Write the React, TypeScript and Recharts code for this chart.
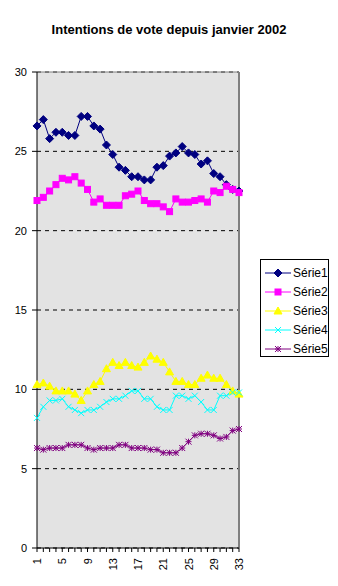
import { LineChart, Line, XAxis, YAxis, CartesianGrid, ReferenceLine } from 'recharts';

const categories = Array.from({ length: 33 }, (_, i) => String(i + 1));

const serie1 = [26.6, 27.0, 25.8, 26.2, 26.2, 26.0, 26.0, 27.2, 27.2, 26.6, 26.4, 25.4, 24.8, 24.0, 23.8, 23.4, 23.4, 23.2, 23.2, 24.0, 24.1, 24.7, 24.9, 25.3, 24.9, 24.8, 24.2, 24.4, 23.6, 23.4, 22.9, 22.6, 22.5];
const serie2 = [21.9, 22.1, 22.5, 22.9, 23.3, 23.2, 23.4, 23.0, 22.6, 21.8, 22.0, 21.6, 21.6, 21.6, 22.2, 22.3, 22.5, 21.9, 21.7, 21.7, 21.5, 21.2, 22.0, 21.8, 21.8, 21.9, 22.0, 21.8, 22.5, 22.4, 22.8, 22.6, 22.4];
const serie3 = [10.3, 10.4, 10.2, 9.9, 9.9, 9.9, 9.7, 9.3, 9.9, 10.3, 10.5, 11.3, 11.7, 11.5, 11.7, 11.5, 11.4, 11.7, 12.1, 11.9, 11.7, 11.1, 10.5, 10.5, 10.3, 10.3, 10.7, 10.9, 10.7, 10.7, 10.3, 9.9, 9.7];
const serie4 = [8.2, 8.9, 9.3, 9.3, 9.4, 8.9, 8.7, 8.5, 8.7, 8.7, 8.9, 9.2, 9.4, 9.4, 9.6, 9.9, 9.9, 9.4, 9.4, 8.9, 8.7, 8.7, 9.6, 9.6, 9.4, 9.6, 9.2, 8.7, 8.7, 9.6, 9.6, 9.8, 9.8];
const serie5 = [6.3, 6.2, 6.3, 6.3, 6.3, 6.5, 6.5, 6.5, 6.3, 6.2, 6.3, 6.3, 6.3, 6.5, 6.5, 6.3, 6.3, 6.3, 6.2, 6.2, 6.0, 6.0, 6.0, 6.3, 6.7, 7.1, 7.2, 7.2, 7.1, 6.9, 7.0, 7.4, 7.5];

const yTicks = [0, 5, 10, 15, 20, 25, 30];
const xLabelled = ['1', '5', '9', '13', '17', '21', '25', '29', '33'];

const SERIES = [
  { key: 'Série1', values: serie1, color: '#000080', marker: 'diamond' },
  { key: 'Série2', values: serie2, color: '#ff00ff', marker: 'square' },
  { key: 'Série3', values: serie3, color: '#ffff00', marker: 'triangle' },
  { key: 'Série4', values: serie4, color: '#00ffff', marker: 'cross' },
  { key: 'Série5', values: serie5, color: '#800080', marker: 'star' },
];

const FONT = '"Liberation Sans", Arial, sans-serif';

function Marker({ type, cx, cy, color }: { type: string; cx: number; cy: number; color: string }) {
  if (type === 'diamond') {
    return <path d={`M${cx},${cy - 4}L${cx + 4},${cy}L${cx},${cy + 4}L${cx - 4},${cy}Z`} fill={color} stroke={color} />;
  }
  if (type === 'square') {
    return <rect x={cx - 3} y={cy - 3} width={6} height={6} fill={color} stroke={color} />;
  }
  if (type === 'triangle') {
    return <path d={`M${cx},${cy - 4}L${cx + 4},${cy + 3}L${cx - 4},${cy + 3}Z`} fill={color} stroke={color} />;
  }
  if (type === 'cross') {
    return <path d={`M${cx - 3},${cy - 3}L${cx + 3},${cy + 3}M${cx - 3},${cy + 3}L${cx + 3},${cy - 3}`} stroke={color} strokeWidth={1} fill="none" />;
  }
  return (
    <path
      d={`M${cx - 3},${cy - 3}L${cx + 3},${cy + 3}M${cx - 3},${cy + 3}L${cx + 3},${cy - 3}M${cx},${cy - 3}L${cx},${cy + 3}M${cx - 3},${cy}L${cx + 3},${cy}`}
      stroke={color}
      strokeWidth={1}
      fill="none"
    />
  );
}

const XTick = (props: any) => {
  const { x, y, payload } = props;
  if (!xLabelled.includes(payload.value)) return <g />;
  return (
    <text
      x={x}
      y={y + 4}
      transform={`rotate(-90 ${x} ${y + 4})`}
      textAnchor="end"
      dominantBaseline="central"
      fontSize={11}
      fontFamily={FONT}
      fill="#000"
    >
      {payload.value}
    </text>
  );
};

const LegendBox = () => (
  <div
    style={{
      position: 'absolute',
      left: 260,
      top: 259,
      border: '1px solid #000',
      width: 69,
      height: 98,
      boxSizing: 'border-box',
      paddingTop: 3,
      background: '#fff',
      fontFamily: FONT,
      fontSize: 12,
    }}
  >
    {SERIES.map(s => (
      <div key={s.key} style={{ display: 'flex', alignItems: 'center', height: 19 }}>
        <svg width={28} height={12} style={{ marginLeft: 3 }}>
          <line x1={1} y1={6} x2={27} y2={6} stroke={s.color} />
          <Marker type={s.marker} cx={14} cy={6} color={s.color} />
        </svg>
        <span style={{ marginLeft: 1 }}>{s.key}</span>
      </div>
    ))}
  </div>
);

export default function App() {
  const data = categories.map((c, i) => {
    const row: Record<string, any> = { x: c };
    SERIES.forEach(s => {
      row[s.key] = s.values[i];
    });
    return row;
  });

  return (
    <div style={{ position: 'absolute', left: 0, top: 0, width: 338, height: 586, background: '#fff' }}>
      <div
        style={{
          position: 'absolute',
          top: 22,
          left: 0,
          width: 338,
          textAlign: 'center',
          fontFamily: FONT,
          fontWeight: 'bold',
          fontSize: 13,
        }}
      >
        Intentions de vote depuis janvier 2002
      </div>
      <LineChart width={338} height={586} data={data} margin={{ top: 72, right: 99, bottom: 0, left: 0 }}>
        <CartesianGrid vertical={false} stroke="#000" strokeDasharray="4 4" fill="#e3e3e3" />
        <XAxis
          dataKey="x"
          interval={0}
          height={38}
          tick={<XTick />}
          tickSize={4}
          stroke="#000"
        />
        <YAxis
          domain={[0, 30]}
          ticks={yTicks}
          width={37}
          tickSize={5}
          tickMargin={5}
          stroke="#000"
          tick={{ fontSize: 11, fontFamily: FONT, fill: '#000' }}
        />
        <ReferenceLine y={30} stroke="#808080" strokeWidth={1} />
        <ReferenceLine x="33" stroke="#808080" strokeWidth={2} />
        {SERIES.map(s => (
          <Line
            key={s.key}
            dataKey={s.key}
            stroke={s.color}
            strokeWidth={1}
            isAnimationActive={false}
            dot={(p: any) => <Marker key={`${s.key}-${p.index}`} type={s.marker} cx={p.cx} cy={p.cy} color={s.color} />}
            activeDot={false}
          />
        ))}
      </LineChart>
      <LegendBox />
    </div>
  );
}
